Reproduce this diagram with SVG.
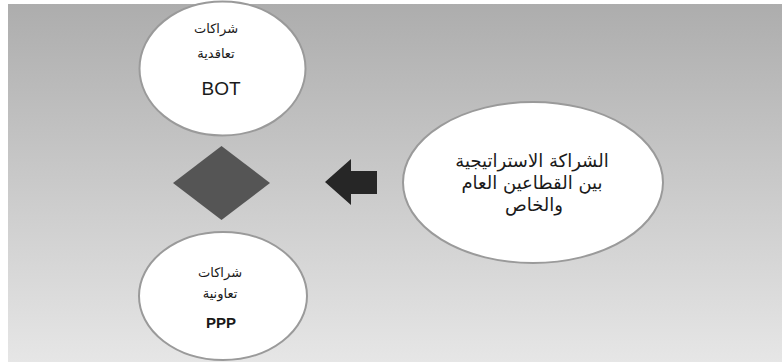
<svg xmlns="http://www.w3.org/2000/svg" width="782" height="362" viewBox="0 0 782 362">
  <defs>
    <linearGradient id="bg" x1="0" y1="0" x2="0" y2="1">
      <stop offset="0" stop-color="#adadad"/>
      <stop offset="1" stop-color="#e6e6e6"/>
    </linearGradient>
  </defs>
  <style>
    .node { fill: #ffffff; stroke: #9a9a9a; stroke-width: 2; }
    .ar { font-family: "DejaVu Sans", "Noto Sans", sans-serif; font-size: 13px; fill: #1a1a1a; text-anchor: middle; }
    .ar-lg { font-family: "DejaVu Sans", "Noto Sans", sans-serif; font-size: 18px; fill: #1a1a1a; text-anchor: middle; }
    .lat { font-family: "Liberation Sans", Arial, sans-serif; fill: #1a1a1a; text-anchor: middle; }
  </style>
  <rect x="0" y="0" width="782" height="362" fill="#ffffff"/>
  <rect x="8" y="4" width="774" height="358" fill="url(#bg)"/>

  <g id="node-bot">
    <ellipse class="node" cx="222.5" cy="68.5" rx="83" ry="67"/>
    <text class="ar" x="216" y="33">شراكات</text>
    <text class="ar" x="216" y="58">تعاقدية</text>
    <text class="lat" x="221" y="95" font-size="19">BOT</text>
  </g>

  <g id="node-ppp">
    <ellipse class="node" cx="223" cy="296" rx="84" ry="64"/>
    <text class="ar" x="220" y="277">شراكات</text>
    <text class="ar" x="220" y="298">تعاونية</text>
    <text class="lat" x="221" y="328" font-size="15" font-weight="bold">PPP</text>
  </g>

  <g id="node-center">
    <polygon points="221.5,146 270,183 221.5,220 173,183" fill="#555555"/>
  </g>

  <g id="node-strategic">
    <ellipse class="node" cx="533" cy="182.5" rx="130" ry="80.5"/>
    <text class="ar-lg" x="532" y="167">الشراكة الاستراتيجية</text>
    <text class="ar-lg" x="532" y="189">بين القطاعين العام</text>
    <text class="ar-lg" x="534" y="211">والخاص</text>
  </g>

  <g id="connectors">
    <polygon points="325,182 351,159 351,171 377,171 377,194 351,194 351,205" fill="#262626"/>
  </g>
</svg>
